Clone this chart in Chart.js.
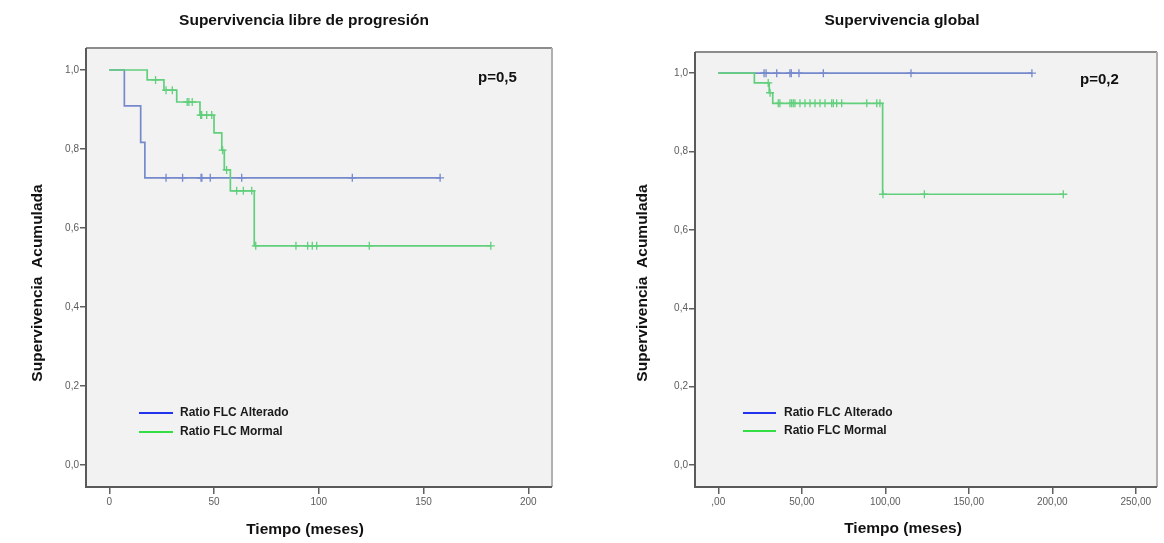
<!DOCTYPE html>
<html>
<head>
<meta charset="utf-8">
<script src="https://cdn.jsdelivr.net/npm/chart.js@4.4.1/dist/chart.umd.min.js"></script>
<style>
  html, body { margin: 0; padding: 0; background: #ffffff; }
  body { width: 1164px; height: 543px; position: relative; overflow: hidden; }
  canvas { position: absolute; top: 0; }
  #c1 { left: 0; }
  #c2 { left: 582px; }
</style>
</head>
<body>
<canvas id="c1" width="582" height="543"></canvas>
<canvas id="c2" width="582" height="543"></canvas>
<script>
// ---------- Data: Supervivencia libre de progresión ----------
const pfsTitle = 'Supervivencia libre de progresión';
const pfsPValue = 'p=0,5';
const pfsXTicks = [0, 50, 100, 150, 200];
const yTicks = [0, 0.2, 0.4, 0.6, 0.8, 1.0];

const pfsAltTimes = [0, 7.2, 15.0, 17.0, 157.9];
const pfsAltSurv  = [1.0, 0.909, 0.817, 0.727, 0.727];
const pfsAltCensor = [27.1, 35.0, 43.8, 44.2, 48.2, 63.2, 116.0, 157.9];

const pfsNorTimes = [0, 18.1, 26.1, 32.2, 43.3, 50.0, 53.7, 54.9, 57.8, 69.2, 182.1];
const pfsNorSurv  = [1.0, 0.975, 0.949, 0.919, 0.886, 0.841, 0.797, 0.747, 0.694, 0.555, 0.555];
const pfsNorCensor = [22.1, 27.1, 30.1, 37.2, 38.0, 39.6, 43.6, 44.1, 46.5, 48.9, 54.1, 56.0,
                      60.8, 64.0, 68.0, 69.9, 89.1, 94.7, 96.9, 99.0, 124.1, 182.1];

// ---------- Data: Supervivencia global ----------
const osTitle = 'Supervivencia global';
const osPValue = 'p=0,2';
const osXTicks = [0, 50, 100, 150, 200, 250];

const osAltTimes = [0, 187.8];
const osAltSurv  = [1.0, 1.0];
const osAltCensor = [27.4, 28.6, 35.0, 42.9, 43.7, 48.3, 62.9, 115.4, 187.8];

const osNorTimes = [0, 21.6, 30.5, 32.6, 98.4, 206.6];
const osNorSurv  = [1.0, 0.975, 0.950, 0.923, 0.691, 0.691];
const osNorCensor = [29.9, 31.0, 35.9, 36.9, 42.9, 43.9, 44.9, 45.9, 48.9, 51.9, 54.9, 57.9,
                     60.9, 63.9, 67.9, 68.9, 70.9, 73.9, 88.9, 94.9, 96.8, 98.6, 123.4, 206.6];

const seriesNames = ['Ratio FLC Alterado', 'Ratio FLC Mormal'];
const xTitle = 'Tiempo (meses)';
const yTitle = 'Supervivencia  Acumulada';

// ---------- Styling ----------
const BLUE = '#7589cc';
const GREEN = '#62cf7c';
const LEG_BLUE = '#2233ee';
const LEG_GREEN = '#33dd44';
const FONT = "'Liberation Sans', Arial, sans-serif";

function stepAt(times, surv, t) {
  let s = surv[0];
  for (let i = 0; i < times.length; i++) { if (t >= times[i]) s = surv[i]; }
  return s;
}
function pts(times, surv) { return times.map((t, i) => ({ x: t, y: surv[i] })); }
function censorPts(times, surv, cens) { return cens.map(t => ({ x: t, y: stepAt(times, surv, t) })); }

function makeChart(id, cfg) {
  const textPlugin = {
    id: 'texts',
    beforeDraw(chart) {
      const { ctx, chartArea: a } = chart;
      ctx.save();
      ctx.fillStyle = '#f2f2f2';
      ctx.fillRect(a.left, a.top, a.right - a.left, a.bottom - a.top);
      ctx.restore();
    },
    afterDraw(chart) {
      const { ctx, chartArea: a } = chart;
      ctx.save();
      // frame
      ctx.lineWidth = 2;
      ctx.strokeStyle = '#8c8c8c';
      ctx.beginPath(); ctx.moveTo(a.left, a.top); ctx.lineTo(a.right, a.top); ctx.stroke();
      ctx.strokeStyle = '#b0b0b0';
      ctx.beginPath(); ctx.moveTo(a.right, a.top); ctx.lineTo(a.right, a.bottom); ctx.stroke();
      ctx.strokeStyle = '#5a5a5a';
      ctx.beginPath(); ctx.moveTo(a.left, a.top); ctx.lineTo(a.left, a.bottom); ctx.lineTo(a.right, a.bottom); ctx.stroke();

      ctx.fillStyle = '#111';
      ctx.textAlign = 'center';
      ctx.textBaseline = 'middle';
      ctx.font = 'bold 15.5px ' + FONT;
      ctx.fillText(cfg.title, cfg.titleX, cfg.titleY);
      ctx.fillText(xTitle, cfg.xLabX, cfg.xLabY);
      ctx.save();
      ctx.translate(cfg.yLabX, cfg.yLabY);
      ctx.rotate(-Math.PI / 2);
      ctx.fillText(yTitle, 0, 0);
      ctx.restore();
      ctx.font = 'bold 15px ' + FONT;
      ctx.textAlign = 'left';
      ctx.fillText(cfg.p, cfg.pX, cfg.pY);

      // legend
      const legColors = [LEG_BLUE, LEG_GREEN];
      ctx.font = 'bold 12px ' + FONT;
      ctx.lineWidth = 2;
      for (let i = 0; i < 2; i++) {
        const y = cfg.legY[i];
        ctx.strokeStyle = legColors[i];
        ctx.beginPath(); ctx.moveTo(cfg.legX1, y); ctx.lineTo(cfg.legX2, y); ctx.stroke();
        ctx.fillStyle = '#1a1a1a';
        ctx.fillText(seriesNames[i], cfg.legTX, y);
      }
      ctx.restore();
    }
  };

  return new Chart(document.getElementById(id), {
    type: 'line',
    data: {
      datasets: [
        { data: censorPts(cfg.norT, cfg.norS, cfg.norC), showLine: false, pointStyle: 'cross',
          pointRadius: 4, pointBorderColor: GREEN, pointBorderWidth: 1.3, borderColor: GREEN, order: 0 },
        { data: censorPts(cfg.altT, cfg.altS, cfg.altC), showLine: false, pointStyle: 'cross',
          pointRadius: 4, pointBorderColor: BLUE, pointBorderWidth: 1.3, borderColor: BLUE, order: 1 },
        { data: pts(cfg.norT, cfg.norS), stepped: true, borderColor: GREEN, borderWidth: 1.7,
          pointRadius: 0, fill: false, order: 2 },
        { data: pts(cfg.altT, cfg.altS), stepped: true, borderColor: BLUE, borderWidth: 1.7,
          pointRadius: 0, fill: false, order: 3 }
      ]
    },
    options: {
      responsive: false,
      animation: false,
      devicePixelRatio: 1,
      layout: { padding: cfg.padding },
      plugins: { legend: { display: false }, tooltip: { enabled: false }, title: { display: false } },
      scales: {
        x: {
          type: 'linear', min: cfg.xMin, max: cfg.xMax,
          afterBuildTicks: s => { s.ticks = cfg.xTicks.map(v => ({ value: v })); },
          afterFit: s => { s.height = 40; },
          ticks: { callback: cfg.xFmt, font: { family: FONT, size: 10 }, color: '#5c5c5c',
                   padding: 2, maxRotation: 0, autoSkip: false },
          grid: { drawOnChartArea: false, drawTicks: true, tickLength: 7, color: '#606060', lineWidth: 1.5 },
          border: { display: false }
        },
        y: {
          type: 'linear', min: cfg.yMin, max: cfg.yMax,
          afterBuildTicks: s => { s.ticks = yTicks.map(v => ({ value: v })); },
          afterFit: s => { s.width = 40; },
          ticks: { callback: v => v.toFixed(1).replace('.', ','), font: { family: FONT, size: 10 },
                   color: '#5c5c5c', padding: 1, autoSkip: false },
          grid: { drawOnChartArea: false, drawTicks: true, tickLength: 6, color: '#606060', lineWidth: 1.5 },
          border: { display: false }
        }
      }
    },
    plugins: [textPlugin]
  });
}

makeChart('c1', {
  altT: pfsAltTimes, altS: pfsAltSurv, altC: pfsAltCensor,
  norT: pfsNorTimes, norS: pfsNorSurv, norC: pfsNorCensor,
  xTicks: pfsXTicks, xFmt: v => String(v),
  xMin: -11.1, xMax: 211.3, yMin: -0.0557, yMax: 1.0557,
  padding: { left: 46, right: 30, top: 48, bottom: 16 },
  title: pfsTitle, titleX: 304, titleY: 21,
  xLabX: 305, xLabY: 530, yLabX: 38, yLabY: 283,
  p: pfsPValue, pX: 478, pY: 78,
  legX1: 139, legX2: 173, legY: [413, 432], legTX: 180
});

makeChart('c2', {
  altT: osAltTimes, altS: osAltSurv, altC: osAltCensor,
  norT: osNorTimes, norS: osNorSurv, norC: osNorCensor,
  xTicks: osXTicks, xFmt: v => (v === 0 ? ',00' : v.toFixed(2).replace('.', ',')),
  xMin: -13.95, xMax: 262.7, yMin: -0.056, yMax: 1.054,
  padding: { left: 73, right: 7, top: 52, bottom: 16 },
  title: osTitle, titleX: 902 - 582, titleY: 21,
  xLabX: 903 - 582, xLabY: 529, yLabX: 643 - 582, yLabY: 283,
  p: osPValue, pX: 1080 - 582, pY: 80,
  legX1: 743 - 582, legX2: 776 - 582, legY: [413, 431], legTX: 784 - 582
});
</script>
</body>
</html>
